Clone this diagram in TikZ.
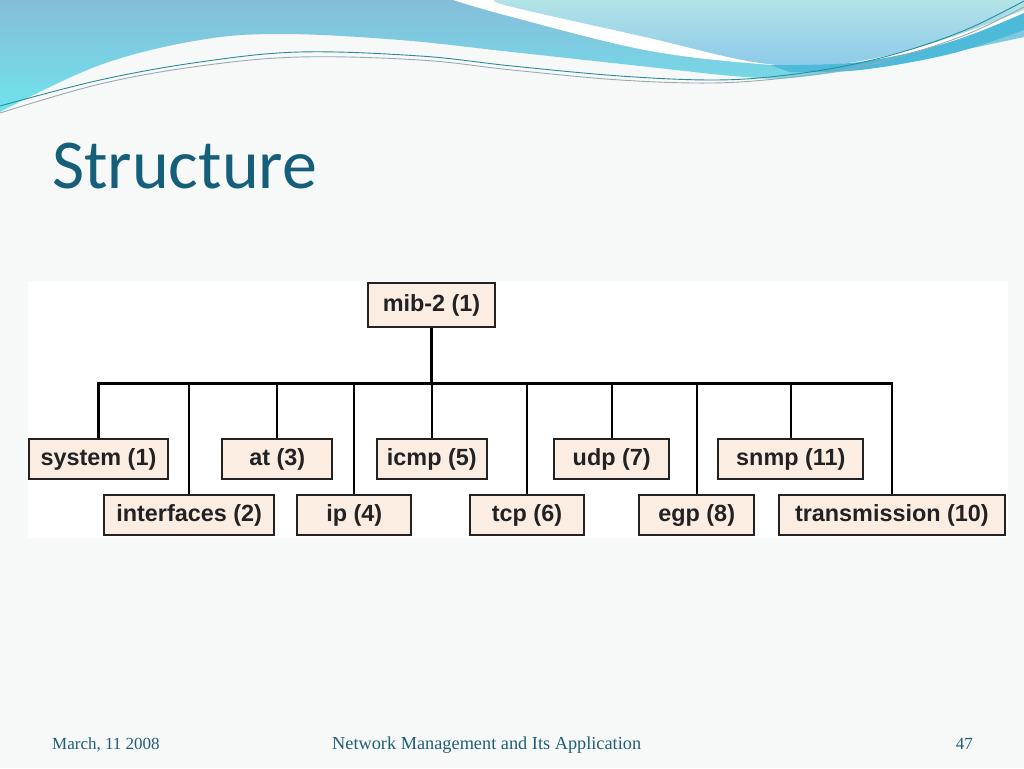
\documentclass[tikz,border=0pt]{standalone}
\usepackage{fontspec}
\setmainfont{Liberation Serif}
\newfontfamily\diagfont{Liberation Sans}
\newfontfamily\titlefont{Carlito}
\definecolor{slidebg}{HTML}{F7F8F8}
\definecolor{wavetop}{HTML}{86BDDA}
\definecolor{wavebot}{HTML}{6FE3EC}
\definecolor{lighttop}{HTML}{B2E3E6}
\definecolor{lightbot}{HTML}{8CC9EA}
\definecolor{band}{HTML}{4DBAD9}
\definecolor{tealline}{HTML}{2A8C9A}
\definecolor{grayline}{HTML}{9AAAB0}
\definecolor{titlecol}{HTML}{155F7B}
\definecolor{footcol}{HTML}{1F5F78}
\definecolor{boxfill}{HTML}{FCEDE3}
\definecolor{boxline}{HTML}{222222}
\begin{document}
\begin{tikzpicture}[x=1pt,y=-1pt,
  mibbox/.style={draw=boxline,line width=2.2pt,fill=boxfill,inner sep=0pt,
    minimum height=40pt,font=\diagfont\bfseries\fontsize{23.4}{28}\selectfont,text=boxline},
  link/.style={line width=2.4pt,black},
  foot/.style={inner sep=0pt,font=\fontsize{17}{20}\selectfont,text=footcol}]
\useasboundingbox (0,0) rectangle (1024,768);
\fill[slidebg] (0,0) rectangle (1024,768);
% waves
\shade[top color=wavetop,bottom color=wavebot]
  (0,0) -- (1024,0) -- plot[smooth,tension=0.6] coordinates {(1024,37) (912,60) (800,77) (745,77) (640,66) (512,52) (400,40) (283,34) (200,40) (100,65) (0,112)} -- cycle;
\fill[white] (453,0) -- plot[smooth,tension=0.6] coordinates {(453,0) (512,17) (645,50) (760,64) (840,66) (930,48) (1024,16)} -- (1024,0) -- cycle;
\shade[top color=lighttop,bottom color=lightbot]
  (495,0) -- plot[smooth,tension=0.6] coordinates {(495,0) (512,7) (645,37) (760,63) (840,64) (930,44) (1024,10)} -- (1024,0) -- cycle;
\fill[band] plot[smooth,tension=0.6] coordinates {(770,65) (860,62) (950,42) (1024,13)} -- (1024,30) -- plot[smooth,tension=0.6] coordinates {(1024,30) (950,54) (860,70) (790,72)} -- cycle;
\draw[tealline,line width=0.9pt] plot[smooth,tension=0.6] coordinates {(0,106) (100,80) (200,62) (300,52) (420,56) (512,66) (620,76) (712,80) (779,76) (850,65) (912,49) (970,28) (1024,1)};
\draw[grayline,line width=0.9pt] plot[smooth,tension=0.6] coordinates {(0,113) (100,84) (200,66) (300,57) (420,60) (512,70) (620,80) (712,83) (785,78) (855,68) (912,53) (970,33) (1024,7)};
% title
\node[anchor=base west,inner sep=0pt,text=titlecol,font=\titlefont\fontsize{70}{84}\selectfont] (title) at (52,188) {Structure};
% diagram panel
\fill[white] (28,281) rectangle (1008,538);
\node[mibbox,minimum width=127pt,minimum height=44pt] (mib) at (431.5,305.3) {mib-2 (1)};
\node[mibbox,minimum width=139.6pt] (system) at (98.5,459) {system (1)};
\node[mibbox,minimum width=110.3pt] (at) at (277.2,459) {at (3)};
\node[mibbox,minimum width=109.7pt] (icmp) at (431.8,459) {icmp (5)};
\node[mibbox,minimum width=115.3pt] (udp) at (611.7,459) {udp (7)};
\node[mibbox,minimum width=145pt] (snmp) at (790.8,459) {snmp (11)};
\node[mibbox,minimum width=170.3pt] (interfaces) at (189.2,515) {interfaces (2)};
\node[mibbox,minimum width=113.7pt] (ip) at (354.2,515) {ip (4)};
\node[mibbox,minimum width=114pt] (tcp) at (527,515) {tcp (6)};
\node[mibbox,minimum width=114.7pt] (egp) at (696.7,515) {egp (8)};
\node[mibbox,minimum width=226.3pt] (trans) at (891.9,515) {transmission (10)};
\coordinate (bus) at (0,383.3);
\draw[link] (mib.south) -- (mib.south |- bus);
\draw[link,line cap=rect] (system.north |- bus) -- (trans.north |- bus);
\foreach \n in {system,at,icmp,udp,snmp,interfaces,ip,tcp,egp,trans}
  \draw[link] (\n.north |- bus) -- (\n.north);
% footer
\node[foot,anchor=base west] (date) at (52,749) {March, 11 2008};
\node[foot,anchor=base west,font=\fontsize{18.3}{22}\selectfont] (course) at (332,749) {Network Management and Its Application};
\node[foot,anchor=base east] (page) at (973,749) {47};
\end{tikzpicture}
\end{document}
